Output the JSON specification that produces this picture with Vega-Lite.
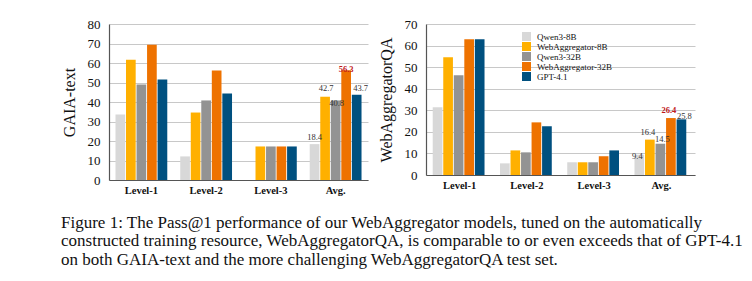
{
  "$schema": "https://vega.github.io/schema/vega-lite/v6.json",
  "padding": {"left": 61, "top": 18, "right": 5, "bottom": 5},
  "background": "white",
  "config": {
    "view": {"stroke": null},
    "font": "Liberation Serif",
    "axis": {"labelFont": "Liberation Serif", "titleFont": "Liberation Serif"},
    "legend": {"labelFont": "Liberation Serif"},
    "text": {"font": "Liberation Serif"}
  },
  "title": {
    "text": [
      "Figure 1:  The Pass@1 performance of our WebAggregator models, tuned on the automatically",
      "constructed training resource, WebAggregatorQA, is comparable to or even exceeds that of GPT-4.1",
      "on both GAIA-text and the more challenging WebAggregatorQA test set."
    ],
    "orient": "bottom",
    "anchor": "start",
    "font": "Liberation Serif",
    "fontSize": 17,
    "fontWeight": "normal",
    "lineHeight": 18.5,
    "color": "#111",
    "offset": 19
  },
  "resolve": {"scale": {"color": "independent"}, "legend": {"color": "independent"}},
  "datasets": {
    "gaia": [
      {"level": "Level-1", "model": "Qwen3-8B", "v": 33.6},
      {"level": "Level-1", "model": "WebAggregator-8B", "v": 61.7},
      {"level": "Level-1", "model": "Qwen3-32B", "v": 49.0},
      {"level": "Level-1", "model": "WebAggregator-32B", "v": 69.4},
      {"level": "Level-1", "model": "GPT-4.1", "v": 51.5},
      {"level": "Level-2", "model": "Qwen3-8B", "v": 12.1},
      {"level": "Level-2", "model": "WebAggregator-8B", "v": 34.6},
      {"level": "Level-2", "model": "Qwen3-32B", "v": 40.8},
      {"level": "Level-2", "model": "WebAggregator-32B", "v": 56.1},
      {"level": "Level-2", "model": "GPT-4.1", "v": 44.3},
      {"level": "Level-3", "model": "Qwen3-8B", "v": 0},
      {"level": "Level-3", "model": "WebAggregator-8B", "v": 17.2},
      {"level": "Level-3", "model": "Qwen3-32B", "v": 17.2},
      {"level": "Level-3", "model": "WebAggregator-32B", "v": 17.2},
      {"level": "Level-3", "model": "GPT-4.1", "v": 17.2},
      {"level": "Avg.", "model": "Qwen3-8B", "v": 18.4, "label": "18.4"},
      {"level": "Avg.", "model": "WebAggregator-8B", "v": 42.7, "label": "42.7"},
      {"level": "Avg.", "model": "Qwen3-32B", "v": 40.8, "label": "40.8"},
      {"level": "Avg.", "model": "WebAggregator-32B", "v": 56.3, "label": "56.3"},
      {"level": "Avg.", "model": "GPT-4.1", "v": 43.7, "label": "43.7"}
    ],
    "waqa": [
      {"level": "Level-1", "model": "Qwen3-8B", "v": 31.4},
      {"level": "Level-1", "model": "WebAggregator-8B", "v": 54.6},
      {"level": "Level-1", "model": "Qwen3-32B", "v": 46.2},
      {"level": "Level-1", "model": "WebAggregator-32B", "v": 62.9},
      {"level": "Level-1", "model": "GPT-4.1", "v": 62.9},
      {"level": "Level-2", "model": "Qwen3-8B", "v": 5.4},
      {"level": "Level-2", "model": "WebAggregator-8B", "v": 11.4},
      {"level": "Level-2", "model": "Qwen3-32B", "v": 10.5},
      {"level": "Level-2", "model": "WebAggregator-32B", "v": 24.4},
      {"level": "Level-2", "model": "GPT-4.1", "v": 22.6},
      {"level": "Level-3", "model": "Qwen3-8B", "v": 5.9},
      {"level": "Level-3", "model": "WebAggregator-8B", "v": 5.9},
      {"level": "Level-3", "model": "Qwen3-32B", "v": 5.9},
      {"level": "Level-3", "model": "WebAggregator-32B", "v": 8.7},
      {"level": "Level-3", "model": "GPT-4.1", "v": 11.4},
      {"level": "Avg.", "model": "Qwen3-8B", "v": 9.4, "label": "9.4"},
      {"level": "Avg.", "model": "WebAggregator-8B", "v": 16.4, "label": "16.4"},
      {"level": "Avg.", "model": "Qwen3-32B", "v": 14.5, "label": "14.5"},
      {"level": "Avg.", "model": "WebAggregator-32B", "v": 26.4, "label": "26.4"},
      {"level": "Avg.", "model": "GPT-4.1", "v": 25.8, "label": "25.8"}
    ]
  },
  "spacing": 8,
  "hconcat": [
    {
      "width": 259,
      "height": 156,
      "data": {"name": "gaia"},
      "encoding": {
        "x": {"field": "level", "type": "nominal", "sort": ["Level-1", "Level-2", "Level-3", "Avg."],
              "scale": {"paddingInner": 0.2, "paddingOuter": 0.1},
              "axis": {"title": null, "labelAngle": 0, "labelFontWeight": "bold", "labelFontSize": 10.5, "labelColor": "#111", "ticks": false, "domainColor": "#555", "domainWidth": 1.2, "labelPadding": 5}},
        "xOffset": {"field": "model", "type": "nominal", "sort": ["Qwen3-8B", "WebAggregator-8B", "Qwen3-32B", "WebAggregator-32B", "GPT-4.1"], "scale": {"paddingInner": 0.08}},
        "y": {"field": "v", "type": "quantitative",
              "scale": {"domain": [0, 80], "nice": false},
              "axis": {"title": "GAIA-text", "titleFontSize": 16, "titleFontWeight": "normal", "titleColor": "#111", "titlePadding": 10, "values": [0,10,20,30,40,50,60,70,80], "labelFontSize": 13, "labelColor": "#111", "ticks": false, "labelPadding": 9, "domainColor": "#555", "domainWidth": 1.2, "gridColor": "#c8c8c8", "gridWidth": 1}},
        "text": {"field": "label"}
      },
      "layer": [
        {
          "mark": {"type": "bar"},
          "encoding": {
            "text": null,
            "color": {"field": "model", "type": "nominal",
                      "scale": {"domain": ["Qwen3-8B", "WebAggregator-8B", "Qwen3-32B", "WebAggregator-32B", "GPT-4.1"], "range": ["#d8d8d8", "#ffb000", "#939393", "#ee7200", "#00507f"]},
                      "legend": null}
          }
        },
        {
          "transform": [{"filter": "datum.label != null && datum.model == 'Qwen3-8B'"}],
          "mark": {"type": "text", "baseline": "middle", "dy": -7, "fontSize": 8.5, "color": "#333"}
        },
        {
          "transform": [{"filter": "datum.label != null && datum.model == 'WebAggregator-8B'"}],
          "mark": {"type": "text", "baseline": "middle", "dy": -9, "dx": 1, "fontSize": 8.5, "color": "#333"}
        },
        {
          "transform": [{"filter": "datum.label != null && datum.model == 'Qwen3-32B'"}],
          "mark": {"type": "text", "baseline": "middle", "dy": 3, "dx": 1, "fontSize": 8.5, "color": "#333"}
        },
        {
          "transform": [{"filter": "datum.label != null && datum.model == 'WebAggregator-32B'"}],
          "mark": {"type": "text", "baseline": "middle", "dy": -1, "fontSize": 8.5, "fontWeight": "bold", "color": "#c0181a"}
        },
        {
          "transform": [{"filter": "datum.label != null && datum.model == 'GPT-4.1'"}],
          "mark": {"type": "text", "baseline": "middle", "dy": -7, "dx": 4, "fontSize": 8.5, "color": "#333"}
        }
      ]
    },
    {
      "width": 269,
      "height": 151,
      "data": {"name": "waqa"},
      "encoding": {
        "x": {"field": "level", "type": "nominal", "sort": ["Level-1", "Level-2", "Level-3", "Avg."],
              "scale": {"paddingInner": 0.2, "paddingOuter": 0.1},
              "axis": {"title": null, "labelAngle": 0, "labelFontWeight": "bold", "labelFontSize": 10.5, "labelColor": "#111", "ticks": false, "domainColor": "#555", "domainWidth": 1.2, "labelPadding": 5}},
        "xOffset": {"field": "model", "type": "nominal", "sort": ["Qwen3-8B", "WebAggregator-8B", "Qwen3-32B", "WebAggregator-32B", "GPT-4.1"], "scale": {"paddingInner": 0.08}},
        "y": {"field": "v", "type": "quantitative",
              "scale": {"domain": [0, 70], "nice": false},
              "axis": {"title": "WebAggregatorQA", "titleFontSize": 16, "titleFontWeight": "normal", "titleColor": "#111", "titlePadding": 10, "values": [0,10,20,30,40,50,60,70], "labelFontSize": 13, "labelColor": "#111", "ticks": false, "labelPadding": 9, "domainColor": "#555", "domainWidth": 1.2, "gridColor": "#c8c8c8", "gridWidth": 1}},
        "text": {"field": "label"}
      },
      "layer": [
        {
          "mark": {"type": "bar"},
          "encoding": {
            "text": null,
            "color": {"field": "model", "type": "nominal",
                      "scale": {"domain": ["Qwen3-8B", "WebAggregator-8B", "Qwen3-32B", "WebAggregator-32B", "GPT-4.1"], "range": ["#d8d8d8", "#ffb000", "#939393", "#ee7200", "#00507f"]},
                      "legend": {"title": null, "orient": "none", "legendX": 96, "legendY": 8, "symbolType": "square", "symbolSize": 81, "symbolStrokeWidth": 0, "symbolOpacity": 1, "labelFontSize": 9, "labelColor": "#111", "rowPadding": 0, "labelOffset": 6}}
          }
        },
        {
          "transform": [{"filter": "datum.label != null && datum.model == 'Qwen3-8B'"}],
          "mark": {"type": "text", "baseline": "middle", "dy": 1, "dx": -2, "fontSize": 8.5, "color": "#333"}
        },
        {
          "transform": [{"filter": "datum.label != null && datum.model == 'WebAggregator-8B'"}],
          "mark": {"type": "text", "baseline": "middle", "dy": -8, "dx": -2, "fontSize": 8.5, "color": "#333"}
        },
        {
          "transform": [{"filter": "datum.label != null && datum.model == 'Qwen3-32B'"}],
          "mark": {"type": "text", "baseline": "middle", "dy": -5, "dx": 2, "fontSize": 8.5, "color": "#333"}
        },
        {
          "transform": [{"filter": "datum.label != null && datum.model == 'WebAggregator-32B'"}],
          "mark": {"type": "text", "baseline": "middle", "dy": -8, "dx": -2, "fontSize": 8.5, "fontWeight": "bold", "color": "#c0181a"}
        },
        {
          "transform": [{"filter": "datum.label != null && datum.model == 'GPT-4.1'"}],
          "mark": {"type": "text", "baseline": "middle", "dy": -3, "dx": 3, "fontSize": 8.5, "color": "#333"}
        }
      ]
    }
  ]
}
